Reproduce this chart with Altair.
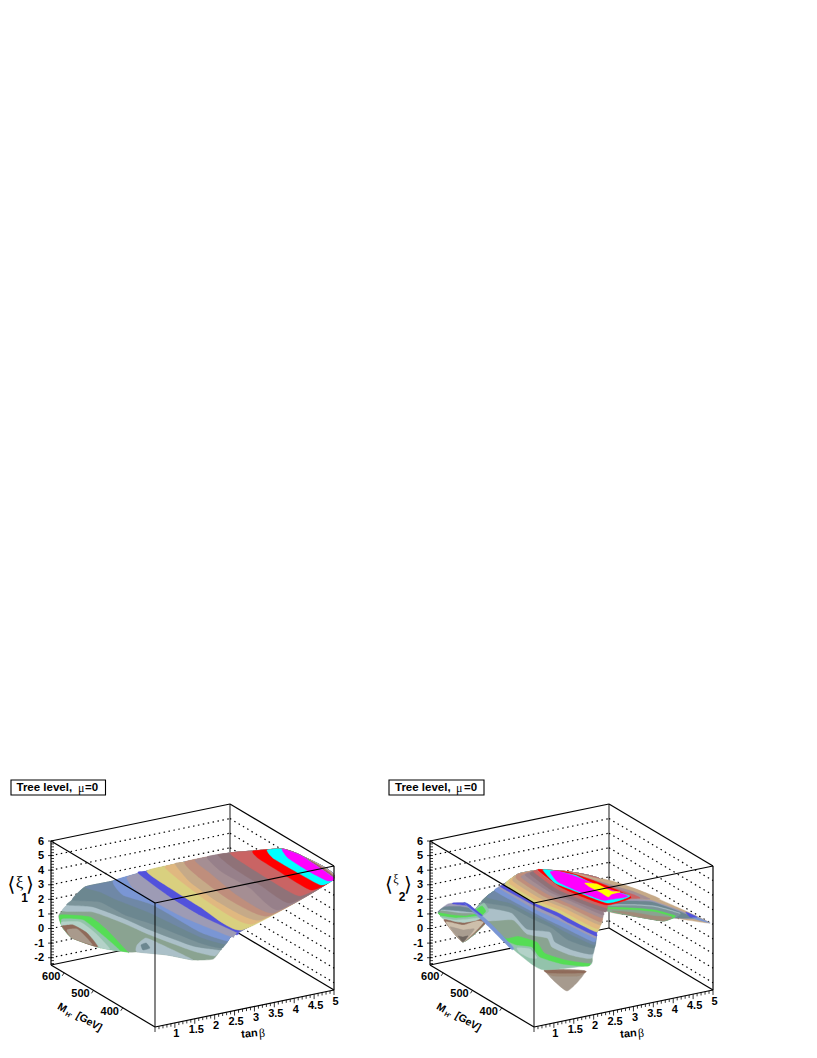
import altair as alt, pandas as pd

# ---------- colours of the contour bands ----------
C = dict(taupe='#a99a8c', brown='#8f6b5a', paleteal='#b3d2c8', teal='#93c3ab', green='#55dd55', sage='#8aa391',
         pale='#abc0c8', slateA='#7c949a', slate='#6c8790', slateb='#6f88a6', corn='#7a96d4', lav='#9d9bb5',
         vivid='#5252dc', yellow='#d9d07f', orange='#e0b880', tan='#c6aa88', rosebr='#bf8e7c', mauve='#a58e93',
         mauve2='#97808a', dmauve='#8f7278', rose='#c96464', red='#ff0000', cyan='#00ffff', magenta='#ff00ff',
         lemon='#ffff00', cream='#cdbfab', gray='#a99d90', dark='#6f665f', dip='#a69a8e', dip2='#a08a78')

# ---------- axis ranges and ticks ----------
TB_RANGE = (0.5, 5.0); MH_RANGE = (290, 645); XI_RANGE = (-2.5, 6.0)
TB_TICKS = [1, 1.5, 2, 2.5, 3, 3.5, 4, 4.5, 5]; TB_LABELS = ['1', '1.5', '2', '2.5', '3', '3.5', '4', '4.5', '5']
MH_TICKS = [400, 500, 600]; XI_TICKS = [-2, -1, 0, 1, 2, 3, 4, 5, 6]

# ---------- surface outlines: (tan beta, M_H, xi) ----------
R1 = [(.46,568,.3),(.66,507,.3),(.91,441,.6),(.96,414,.9),(1.29,356,1.2),(1.71,324,1.0),(1.98,292,1.3),(2.21,294,1.9),
      (2.45,299,2.4),(2.64,294,2.75),(4.99,289,5.2),(5.12,422,5.1),(5.02,470,5.0),(4.57,508,4.66),(4.22,539,4.35),
      (3.46,590,3.55),(2.77,625,2.9),(2.10,650,2.3),(1.57,674,1.9),(1.19,667,1.3),(.75,652,.7),(.62,623,.3)]
H = [(.85,665,.7),(.74,616,1.9),(.67,549,2.8),(1.20,576,1.5),(1.62,610,.1),(1.15,621,-1),(1.00,662,.1)]
W = [(3.24,436,4.35),(3.96,422,3.5),(4.41,333,3.0),(4.94,292,2.1),(4.91,414,1.0),(4.72,423,.8),(4.41,483,.6),(4.07,533,.6)]
B = [(2.62,329,4.2),(3.24,436,4.35),(2.74,471,4.7),(2.26,508,4.66),(2.21,576,3.6),(1.95,592,2.8),(1.67,609,2.0),(1.60,641,.7),
     (1.26,578,1.3),(.65,460,2.3),(.95,423,1.0),(1.05,368,.5),(1.21,349,.3),(2.12,318,.5),(2.10,310,1.5),(2.18,304,2.9),(2.51,328,4.0)]
r = lambda a, b: list(range(a, b + 1))

# ---------- contour bands: colour, xi level, (tan beta, M_H) points, outline, outline vertices closing the band ----------
P1 = [('sage',None,[],'R',r(0,21)),
('pale',1.2,[(.71,635),(1.25,604),(1.47,531),(1.60,456),(1.90,350),(2.15,310)],'R',r(7,19)),
('slateA',1.45,[(.87,641),(1.30,610),(1.51,537),(1.64,462),(1.94,356),(2.32,315)],'R',r(7,19)),
('slate',1.88,[(.93,631),(1.39,598),(1.45,521),(1.69,452),(1.97,336),(2.22,295)],'R',r(8,18)),
('slateb',2.10,[(1.48,661),(1.60,627),(1.67,578),(1.88,494),(2.06,348),(2.30,296)],'R',r(8,17)),
('corn',2.30,[(2.10,650),(1.84,582),(2.09,513),(2.12,357),(2.34,295)],'R',r(8,16)),
('lav',2.50,[(2.39,642),(2.16,590),(2.13,511),(2.18,423),(2.47,295)],'R',r(9,16)),
('vivid',2.70,[(2.63,637),(2.48,507),(2.47,404),(2.62,294)],'R',r(9,16)),
('yellow',2.91,[(2.76,625),(2.66,532),(2.63,425),(2.69,290)],'R',r(10,15)),
('orange',3.13,[(3.12,612),(2.96,528),(2.83,409),(2.98,293)],'R',r(10,15)),
('tan',3.34,[(3.31,603),(3.03,514),(2.93,398),(3.14,290)],'R',r(10,15)),
('rosebr',3.55,[(3.46,590),(3.24,509),(3.11,389),(3.32,287)],'R',r(10,14)),
('mauve',3.74,[(3.63,578),(3.50,509),(3.31,392),(3.42,284)],'R',r(10,14)),
('mauve2',3.92,[(3.86,569),(3.67,492),(3.69,399),(3.53,281)],'R',r(10,14)),
('dmauve',4.13,[(4.03,555),(3.91,486),(3.88,390),(3.87,287)],'R',r(10,14)),
('rose',4.35,[(4.22,539),(4.15,485),(4.12,389),(4.18,295)],'R',r(10,13)),
('red',4.66,[(4.57,508),(4.44,474),(4.42,406),(4.43,291)],'R',r(10,12)),
('cyan',4.88,[(4.76,486),(4.62,447),(4.62,378),(4.67,290)],'R',r(10,12)),
('magenta',5.11,[(4.97,463),(4.80,420),(4.77,341),(4.82,287)],'R',r(10,11)),
('green',.72,[(.76,650),(1.26,615),(1.17,545),(.87,433)],'R',[2,1,0,21]),
('teal',.52,[(.77,644),(1.13,621),(1.04,551),(.85,457)],'R',[1,0,21]),
('paleteal',.32,[(.76,643),(1.10,627),(1.04,567),(.81,486)],'R',[1,0,21]),
('brown',.12,[(.73,639),(.97,633),(.98,587),(.74,518)],'R',[0,21]),
('taupe',-.08,[(.79,630),(1.01,625),(.92,583),(.79,544),(.63,591)],'R',[]),
('pale',1.3,[(1.00,419),(1.38,441),(1.46,403),(1.52,360),(1.57,306),(1.24,350),(.78,389)],'R',[]),
('slate',1.5,[(.98,403),(1.14,407),(1.05,382),(.86,380)],'R',[])]

P2 = [('lav',None,[],'H',r(0,6)),
('vivid',2.8,[(.45,560),(.67,549),(.67,532),(.57,542),(.42,555)],'H',[]),
('slate',1.9,[(.59,606),(.88,594),(1.03,573)],'H',[3,4,5,6,0]),
('pale',1.3,[(.69,633),(.98,614),(1.23,591)],'H',[3,4,5,6]),
('sage',1.1,[(.73,643),(1.01,618),(1.31,598)],'H',[4,5,6]),
('green',.7,[(.82,661),(1.01,640),(1.23,624),(1.53,621)],'H',[4,5,6]),
('teal',.5,[(.85,658),(1.07,637),(1.38,628),(1.60,623)],'H',[4,5,6]),
('paleteal',.3,[(.92,661),(1.10,641),(1.41,632),(1.64,626)],'H',[4,5,6]),
('brown',.1,[(.98,663),(1.13,645),(1.28,632),(1.53,631),(1.72,634)],'H',[4,5]),
('cream',-.1,[(1.05,665),(1.27,637),(1.66,642),(1.71,628)],'H',[5]),
('gray',-.5,[(1.15,665),(1.30,641),(1.54,635)],'H',[5]),
('dark',-.9,[(1.20,644),(1.26,636),(1.39,636)],'H',[5]),
('tan',None,[],'W',r(0,7)),
('lav',2.3,[(3.60,476),(4.16,449),(4.45,430),(4.63,376),(4.79,306)],'W',[4,5,6,7]),
('slate',1.9,[(3.72,492),(4.28,466),(4.61,445),(4.79,391),(4.91,339)],'W',[4,5,6,7]),
('pale',1.4,[(3.85,505),(4.40,482),(4.77,456),(5.01,404)],'W',[4,5,6,7]),
('slateA',1.3,[(3.86,507),(4.42,484),(4.78,458),(5.03,406)],'W',[4,5,6,7]),
('green',.72,[(4.09,539),(4.60,509),(4.95,481),(5.15,440)],'W',[4,5,6,7]),
('sage',.52,[(4.12,543),(4.63,513),(4.98,485),(5.14,449)],'W',[5,6,7]),
('dip2',.1,[(4.40,553),(4.75,529),(5.05,494),(5.32,473)],'W',[5,6]),
('corn',2.2,[(4.80,348),(4.90,286),(4.74,316)],'W',[]),
('vivid',2.7,[(4.56,323),(4.61,292),(4.48,298)],'W',[]),
('dip',-.5,[(1.58,399),(2.29,359),(1.33,290)],'B',[]),
('dip2',-.2,[(1.44,380),(2.15,341),(1.89,325),(1.40,347)],'B',[]),
('brown',.1,[(1.30,361),(2.02,322),(1.90,316),(1.28,345)],'B',[]),
('teal',None,[],'B',r(0,16)),
('paleteal',.32,[(1.37,466),(1.58,450),(1.43,406),(1.30,412),(1.27,442)],'B',[]),
('green',.52,[(1.31,492),(1.37,466),(1.59,445),(1.42,395),(1.62,346),(2.06,314)],'B',r(14,16)+r(0,9)),
('sage',.72,[(1.29,493),(1.58,491),(1.75,449),(1.55,395),(1.74,346),(2.10,312)],'B',r(14,16)+r(0,9)),
('pale',1.2,[(1.27,552),(1.77,534),(1.59,462),(1.84,427),(1.65,385),(1.74,335),(2.05,303)],'B',r(15,16)+r(0,8)),
('slateA',1.45,[(1.41,598),(1.66,581),(1.85,549),(1.63,468),(1.97,435),(1.75,388),(1.82,339),(2.08,304)],'B',r(15,16)+r(0,7)),
('slate',1.88,[(1.44,595),(1.81,550),(1.86,478),(1.94,423),(1.86,358),(2.09,301)],'B',r(15,16)+r(0,6)),
('slateb',2.10,[(1.59,599),(1.83,553),(1.89,482),(1.95,433),(1.96,386),(2.09,301)],'B',r(15,16)+r(0,5)),
('corn',2.30,[(1.84,605),(1.89,482),(1.92,435),(1.98,392),(2.09,301)],'B',r(15,16)+r(0,5)),
('lav',2.50,[(1.92,602),(1.92,487),(1.99,438),(2.05,395),(2.14,305)],'B',r(15,16)+r(0,5)),
('vivid',2.70,[(1.89,592),(1.93,487),(2.03,419),(2.03,385),(2.13,300)],'B',r(15,16)+r(0,5)),
('yellow',2.91,[(1.93,584),(1.92,487),(2.06,423),(2.18,303)],'B',[16]+r(0,4)),
('orange',3.13,[(1.97,575),(1.94,479),(2.08,415),(2.19,301)],'B',[16]+r(0,4)),
('tan',3.34,[(2.01,567),(1.98,471),(2.12,407),(2.26,303)],'B',[16]+r(0,4)),
('rosebr',3.55,[(2.05,559),(2.01,464),(2.14,400),(2.27,302)],'B',[16]+r(0,4)),
('mauve',3.74,[(2.10,552),(2.06,457),(2.17,394),(2.33,307)],'B',[16]+r(0,3)),
('mauve2',3.92,[(2.16,546),(2.09,452),(2.21,389),(2.36,307)],'B',[16]+r(0,3)),
('dmauve',4.13,[(2.19,533),(2.08,440),(2.20,378),(2.40,305)],'B',r(0,3)),
('rose',4.35,[(2.22,524),(2.12,432),(2.24,369),(2.44,308)],'B',r(0,3)),
('tan',3.3,[(2.84,594),(2.72,503),(2.84,440),(3.03,385),(3.65,390),(4.21,364),(4.05,434),(3.72,502),(3.38,558)],'B',[]),
('mauve',3.9,[(2.57,557),(2.45,465),(2.56,403),(2.76,348),(3.38,353),(3.75,335),(3.66,385),(3.34,458),(3.01,525)],'B',[]),
('rose',4.35,[(2.36,529),(2.24,438),(2.36,375),(2.55,320),(3.17,325),(3.39,320),(3.36,344),(3.09,426),(2.80,497)],'B',[]),
('red',4.66,[(2.22,510),(2.10,418),(2.21,356),(2.41,300),(3.11,313),(2.95,407),(2.72,475),(2.35,504)],'B',[]),
('cyan',4.88,[(2.21,492),(2.03,426),(2.18,362),(2.39,294),(3.02,305),(2.74,369),(2.65,442),(2.34,486)],'B',[]),
('magenta',5.11,[(2.18,463),(2.01,413),(2.11,352),(2.27,298),(2.38,293),(2.88,292),(2.66,365),(2.49,431),(2.34,461)],'B',[]),
('lemon',5.33,[(2.38,372),(2.58,357),(2.62,315),(2.76,303),(2.54,301),(2.38,292),(2.38,320),(2.35,350)],'B',[]),
('teal',.5,[(1.74,657),(2.08,675),(1.92,637),(1.63,622)],'B',[]),
('green',.7,[(1.62,640),(1.86,652),(1.77,627),(1.57,613)],'B',[]),
('corn',2.3,[(.88,581),(.93,567),(.72,463),(.42,351),(.32,344),(.61,462)],'B',[]),
('vivid',2.7,[(.70,556),(.74,548),(.66,489),(.62,491)],'B',[])]

PANEL_DX = 379

def P(t, m, z, dx=0):
    """Oblique view used by the reference: data to the position fed to the chart's x and y scales."""
    a = (t - TB_RANGE[0]) / (TB_RANGE[1] - TB_RANGE[0])
    b = (m - MH_RANGE[0]) / (MH_RANGE[1] - MH_RANGE[0])
    c = (z - XI_RANGE[0]) / (XI_RANGE[1] - XI_RANGE[0])
    return (147 + dx + 179 * a - 104 * b, 1019 - 37 * a - 62 * b - 124 * c)

rows = []; rid = 0
def add_panel(regs, rings, dx):
    global rid
    for col, xi, pts, rn, tail in regs:
        poly = [P(t, m, xi, dx) for t, m in pts] + [P(*rings[rn][k], dx) for k in tail]
        for i, (x, y) in enumerate(poly):
            rows.append(dict(r=rid, i=i, x=x, y=y, c=C[col]))
        rid += 1
add_panel(P1, {'R': R1}, 0)
add_panel(P2, {'H': H, 'W': W, 'B': B}, PANEL_DX)
surf = pd.DataFrame(rows)

X = alt.X('x:Q', scale=alt.Scale(domain=[0, 801], nice=False, zero=False), axis=None)
Y = alt.Y('y:Q', scale=alt.Scale(domain=[1042, 0], nice=False, zero=False), axis=None)
surface = alt.Chart(surf).mark_line(strokeWidth=.4, interpolate='cardinal-closed', tension=.5, strokeJoin='round').encode(
    x=X, y=Y, detail='r:N', order='i:Q', fill=alt.Fill('c:N', scale=None), stroke=alt.Stroke('c:N', scale=None))

def rule(lst, **k):
    df = pd.DataFrame([dict(x=a[0], y=a[1], x2=b[0], y2=b[1]) for a, b in lst])
    return alt.Chart(df).mark_rule(color='black', strokeWidth=k.pop('w', 1.2), **k).encode(x=X, y=Y, x2='x2:Q', y2='y2:Q')

back = []; dots = []; front = []; ticks = []; vback = []; vfront = []
t0, t1 = TB_RANGE; lo, hi = MH_RANGE; zb, zt = XI_RANGE
for dx in (0, PANEL_DX):
    for z in XI_TICKS[:-1]:
        dots += [(P(t0, hi, z, dx), P(t1, hi, z, dx)), (P(t1, hi, z, dx), P(t1, lo, z, dx))]
    back += [(P(t0, hi, zt, dx), P(t1, hi, zt, dx)), (P(t1, hi, zt, dx), P(t1, lo, zt, dx)), (P(t0, hi, zb, dx), P(t1, hi, zb, dx)),
             (P(t1, hi, zb, dx), P(t1, lo, zb, dx)), (P(t0, hi, zb, dx), P(t0, hi, zt, dx))]
    vback.append((P(t1, hi, zb, dx), P(t1, hi, zt, dx)))
    front += [(P(t0, hi, zt, dx), P(t0, lo, zt, dx)), (P(t0, lo, zt, dx), P(t1, lo, zt, dx)), (P(t0, hi, zb, dx), P(t0, lo, zb, dx)),
              (P(t0, lo, zb, dx), P(t1, lo, zb, dx)), (P(t1, lo, zb, dx), P(t1, lo, zt, dx))]
    vfront.append((P(t0, lo, zb, dx), P(t0, lo, zt, dx)))
    for k in range(5, 51):
        a = P(k / 10, lo, zb, dx); ticks.append((a, (a[0], a[1] + (5 if k % 5 == 0 else 3))))
    for k in range(-12, 31):
        a = P(t0, hi, k / 5, dx); ticks.append((a, (a[0] + 3, a[1])))
        if k % 5 == 0: ticks.append((a, (a[0] - 3, a[1])))
    for m in MH_TICKS:
        a = P(t0, m, zb, dx); ticks.append((a, (a[0] - 2, a[1] + 3)))

SANS = 'Liberation Sans'; SERIF = 'Liberation Serif'
def txt(rows_, **k):
    return alt.Chart(pd.DataFrame(rows_)).mark_text(**k).encode(x=X, y=Y, text='s:N')

tl = []; zl = []
for dx in (0, PANEL_DX):
    for t, s in zip(TB_TICKS, TB_LABELS):
        a = P(t, lo, zb, dx); tl.append(dict(x=a[0] + 1.5, y=a[1] + 11.5, s=s))
    for m in MH_TICKS:
        a = P(t0, m, zb, dx); tl.append(dict(x=a[0] - 13, y=a[1] + 4, s=str(m)))
    for z in XI_TICKS:
        a = P(t0, hi, z, dx); zl.append(dict(x=a[0] - 7, y=a[1] + .5, s=str(z)))

layers = [rule(dots, strokeDash=[1.5, 3.5]), rule(back), rule(vback, opacity=.75), surface, rule(front), rule(vfront, opacity=.8), rule(ticks, w=.8),
          txt(tl, font=SANS, fontWeight='bold', fontSize=11, align='center', baseline='middle'),
          txt(zl, font=SANS, fontWeight='bold', fontSize=11, align='right', baseline='middle')]
box = pd.DataFrame([dict(x=3, x2=97.5, y=772, y2=787), dict(x=381, x2=476, y=772, y2=787)])
layers.append(alt.Chart(box).mark_rect(fill='white', stroke='black', strokeWidth=1.1).encode(x=X, x2='x2:Q', y=Y, y2='y2:Q'))
layers.append(txt([dict(x=8.5, y=779.5, s='Tree level,'), dict(x=387, y=779.5, s='Tree level,'), dict(x=77, y=779.5, s='=0'), dict(x=456, y=779.5, s='=0')],
                  font=SANS, fontWeight='bold', fontSize=11.5, align='left', baseline='middle'))
layers.append(txt([dict(x=70, y=779.5, s='μ'), dict(x=448, y=779.5, s='μ')], font=SERIF, fontSize=12, align='left', baseline='middle'))
for dx in (0, PANEL_DX):
    layers.append(txt([dict(x=241.5 + dx, y=1026, s='tan')], font=SANS, fontWeight='bold', fontSize=11, align='center', baseline='middle', angle=355))
    layers.append(txt([dict(x=254 + dx, y=1025, s='β')], font=SERIF, fontSize=12, align='center', baseline='middle', angle=355))
    layers.append(txt([dict(x=54 + dx, y=1000, s='M')], font=SANS, fontWeight='bold', fontSize=10.5, align='center', baseline='middle', angle=30))
    layers.append(txt([dict(x=60.5 + dx, y=1007, s="H'")], font=SANS, fontWeight='bold', fontSize=6.5, align='center', baseline='middle', angle=30))
    layers.append(txt([dict(x=81 + dx, y=1014, s='[GeV]')], font=SANS, fontWeight='bold', fontSize=10.5, align='center', baseline='middle', angle=30))
layers.append(txt([dict(x=3.5, y=877, s='⟨'), dict(x=22, y=877, s='⟩'), dict(x=381, y=877, s='⟨'), dict(x=400, y=877, s='⟩')],
                  font='DejaVu Sans', fontSize=20, align='center', baseline='middle'))
layers.append(txt([dict(x=11.5, y=875, s='ξ')], font=SERIF, fontSize=17, align='center', baseline='middle'))
layers.append(txt([dict(x=388, y=871, s='ξ')], font=SERIF, fontSize=12, align='center', baseline='middle'))
layers.append(txt([dict(x=16.5, y=890, s='1'), dict(x=394, y=889, s='2')], font=SANS, fontWeight='bold', fontSize=12, align='center', baseline='middle'))

chart = alt.layer(*layers).properties(width=801, height=1042, padding=0, autosize=alt.AutoSizeParams(type='none')).configure_view(stroke=None)
chart.save("out.html", embed_options={"renderer": "svg", "actions": False})
